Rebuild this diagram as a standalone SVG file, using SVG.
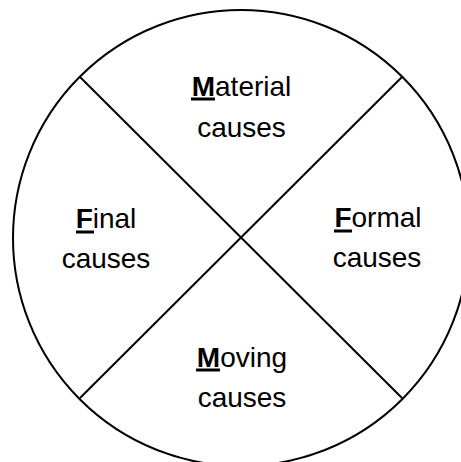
<svg xmlns="http://www.w3.org/2000/svg" width="461" height="462" viewBox="0 0 461 462">
<style>
.lbl{font-family:"Liberation Sans",Arial,sans-serif;font-size:28px;fill:#000;text-anchor:middle}
.b{font-weight:bold}
.ul{fill:#000}
.ln{stroke:#000;stroke-width:2;fill:none}
</style>
<rect width="461" height="462" fill="#fff"/>
<g id="connectors">
<circle class="ln" cx="241" cy="238" r="228"/>
<line class="ln" x1="80" y1="77" x2="402" y2="398"/>
<line class="ln" x1="402" y1="77" x2="80" y2="398"/>
</g>
<g id="material">
<text class="lbl" x="241.5" y="96"><tspan class="b">M</tspan>aterial</text>
<text class="lbl" x="241.5" y="137">causes</text>
<rect class="ul" x="191" y="97.5" width="24" height="3"/>
</g>
<g id="final">
<text class="lbl" x="106" y="228"><tspan class="b">F</tspan>inal</text>
<text class="lbl" x="106" y="268">causes</text>
<rect class="ul" x="76" y="230.5" width="18" height="3"/>
</g>
<g id="formal">
<text class="lbl" x="378" y="227"><tspan class="b">F</tspan>ormal</text>
<text class="lbl" x="377" y="267">causes</text>
<rect class="ul" x="334" y="229.5" width="18" height="3"/>
</g>
<g id="moving">
<text class="lbl" x="242" y="367"><tspan class="b">M</tspan>oving</text>
<text class="lbl" x="242" y="407">causes</text>
<rect class="ul" x="196" y="368.5" width="24" height="3"/>
</g>
</svg>
